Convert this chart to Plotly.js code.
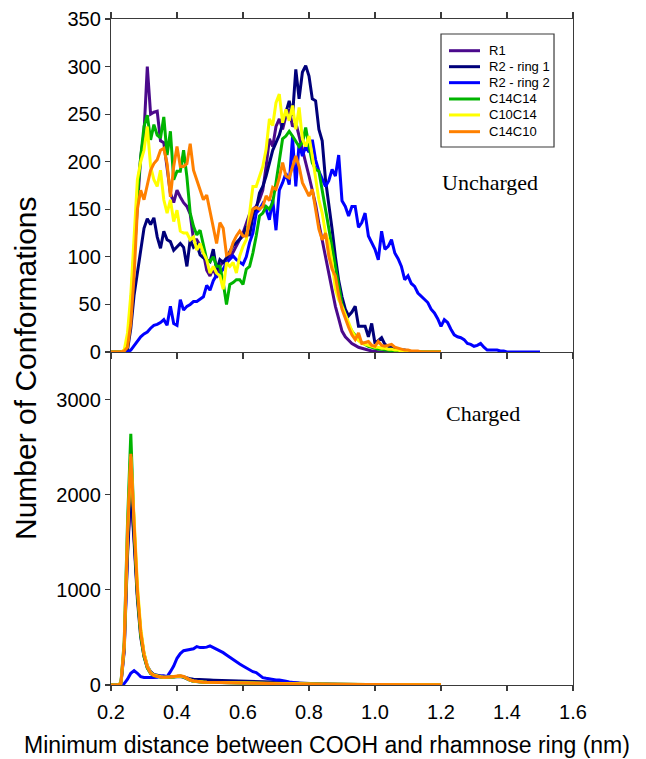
<!DOCTYPE html>
<html>
<head>
<meta charset="utf-8">
<script src="https://cdn.plot.ly/plotly-3.0.1.min.js"></script>
<style>html,body{margin:0;padding:0;background:#fff;}#chart{width:646px;height:759px;}</style>
</head>
<body>
<div id="chart"></div>
<script>
// Distance grid (nm): start and step of the histogram bins
const X_START = 0.20;
const X_STEP = 0.01;

const seriesNames = ["R1", "R2 - ring 1", "R2 - ring 2", "C14C14", "C10C14", "C14C10"];
const seriesColors = ["#4B0A8C", "#00007A", "#0000FF", "#00B400", "#FFFF00", "#FF8000"];

// ---- Uncharged (top panel), counts per bin ----
const unchR1 = [
  0,0,0,0,0, 8,45,100,150,205, 230,300,250,252,253, 222,220,195,167,157,
  170,163,157,153,145, 118,118,112,104,86, 80,88,78,90,95, 93,100,105,112,118,
  125,135,145,150,153, 160,170,195,224,216, 237,245,234,248,255, 237,241,227,213,202,
  185,170,155,135,118, 100,85,68,48,35, 22,16,12,9,7, 5,4,3,2,1,
  1,0,0,0,0, 0,0,0,0,0, 0,0,0,0,0, 0,0,0,0,0, 0
];
const unchR2ring1 = [
  0,0,0,0,0, 2,25,60,85,105, 130,140,134,141,121, 109,127,118,116,107,
  111,114,110,90,118, 110,113,102,99,97, 95,108,86,97,94, 99,105,112,115,118,
  122,132,122,143,150, 167,174,185,200,212, 220,228,240,252,264, 248,297,266,294,301,
  290,266,264,234,222, 181,157,129,100,75, 58,45,38,42,48, 27,27,27,16,30,
  9,12,15,8,6, 5,4,3,2,2, 1,0,0,0,0, 0,0,0,0,0, 0
];
const unchR2ring2 = [
  0,0,0,0,0, 0,2,7,12,16, 19,21,25,28,29, 31,34,28,48,30,
  28,55,44,48,50, 53,53,56,58,70, 65,75,81,83,87, 94,98,101,97,94,
  92,100,115,125,146, 150,156,150,139,160, 128,170,178,188,176, 226,174,219,206,216,
  210,223,202,190,181, 174,180,192,185,207, 159,153,143,153,153, 131,136,146,122,115,
  108,97,127,108,111, 118,104,98,90,76, 80,72,69,62,59, 55,52,45,41,35,
  27,34,31,24,18, 16,15,13,9,8, 6,7,9,5,2, 2,2,2,1,1,
  0,0,0,0,0, 0,0,0,0,0, 0
];
const unchC14C14 = [
  0,0,0,0,1, 10,50,110,165,205, 237,249,223,239,228, 225,247,207,232,181,
  190,190,212,184,146, 132,123,128,111,97, 95,100,90,90,73, 50,71,73,76,76,
  71,87,90,104,122, 143,146,153,150,157, 178,202,224,227,232, 227,222,216,220,236,
  216,199,192,190,170, 150,130,110,88,70, 50,38,28,22,17, 13,10,8,6,5,
  4,3,3,2,2, 1,0,0,0,0, 0,0,0,0,0, 0,0,0,0,0, 0
];
const unchC10C14 = [
  0,0,0,0,2, 20,60,115,181,200, 212,237,195,181,174, 191,160,146,160,137,
  149,127,125,125,118, 121,107,114,104,97, 83,90,83,80,66, 94,90,94,83,101,
  111,118,146,174,174, 185,195,213,245,238, 262,271,241,255,243, 259,234,257,224,216,
  227,206,181,160,146, 125,115,94,66,55, 48,40,31,22,16, 12,9,8,7,6,
  5,5,4,4,3, 3,2,2,1,1, 1,0,0,0,0, 0,0,0,0,0, 0
];
const unchC14C10 = [
  0,0,0,0,1, 5,30,80,150,170, 160,177,191,198,202, 212,214,198,163,195,
  216,195,195,198,219, 191,181,170,160,165, 149,132,114,136,130, 102,104,115,122,127,
  122,122,136,150,152, 150,153,164,159,173, 171,183,199,185,183, 195,206,195,178,171,
  164,171,150,129,118, 125,101,87,80,60, 45,35,26,18,13, 20,9,10,11,7,
  6,11,7,6,7, 8,5,4,3,2, 2,1,1,1,0, 0,0,0,0,0, 0
];

// ---- Charged (bottom panel), counts per bin ----
const chR1 = [
  0,0,0,10,350, 1350,2050,1500,900,500, 300,180,125,100,90, 85,80,80,82,85,
  88,90,80,62,48, 40,36,33,31,30, 29,28,27,27,26, 25,24,24,23,22,
  22,21,20,20,19, 18,18,17,16,16, 15,14,14,13,12, 12,11,11,10,10,
  9,9,8,8,7, 7,6,6,6,5, 5,5,4,4,4, 4,3,3,3,3,
  3,2,2,2,2, 2,2,2,1,1, 1,1,1,1,1, 1,1,1,0,0, 0
];
const chR2ring1 = [
  0,0,0,10,380, 1400,2100,1550,950,560, 330,200,140,110,100, 95,90,88,88,90,
  92,95,88,75,65, 60,57,55,53,52, 52,51,50,50,50, 49,49,48,48,47,
  47,46,45,44,43, 42,40,38,36,34, 32,30,28,26,24, 22,20,18,17,16,
  15,14,13,12,11, 10,9,9,8,8, 7,7,6,6,5, 5,5,4,4,4,
  3,3,3,3,2, 2,2,2,2,1, 1,1,1,1,1, 1,1,0,0,0, 0
];
const chR2ring2 = [
  0,0,0,0,15, 60,123,151,123,88, 80,77,77,78,80, 95,98,88,140,200,
  281,330,361,368,368, 380,404,393,395,398, 411,395,375,355,340, 316,290,270,246,220,
  200,180,158,140,130, 105,77,70,63,60, 53,53,50,40,32, 25,21,18,15,12,
  10,9,8,7,6, 6,5,5,5,4, 4,4,3,3,3, 3,3,2,2,2,
  2,2,2,1,1, 1,1,1,1,1, 1,1,0,0,0, 0,0,0,0,0, 0
];
const chC14C14 = [
  0,0,0,20,450, 1700,2640,1650,950,520, 300,180,120,100,90, 85,80,80,82,85,
  90,92,85,65,50, 40,35,32,30,28, 27,26,25,24,23, 22,22,21,21,20,
  20,19,19,18,18, 17,17,16,16,15, 15,14,14,13,12, 12,11,11,10,10,
  10,9,9,8,8, 8,7,7,7,6, 6,6,5,5,5, 5,4,4,4,4,
  4,3,3,3,3, 3,3,2,2,2, 2,2,2,2,1, 1,1,1,1,1, 1
];
const chC10C14 = [
  0,0,0,15,400, 1550,2400,1750,1050,600, 340,200,130,105,92, 86,82,82,85,88,
  92,95,88,68,52, 42,37,34,32,30, 29,28,27,26,25, 24,24,23,22,22,
  21,21,20,20,19, 19,18,18,17,17, 16,16,15,15,14, 14,13,13,12,12,
  11,11,10,10,10, 9,9,9,8,8, 8,7,7,7,7, 6,6,6,6,5,
  5,5,5,5,4, 4,4,4,4,4, 3,3,3,3,3, 3,3,3,2,2, 2
];
const chC14C10 = [
  0,0,0,15,420, 1600,2430,1700,1000,560, 320,190,125,100,90, 85,82,82,85,90,
  95,98,90,70,52, 42,36,33,30,28, 27,26,25,24,23, 22,22,21,21,20,
  20,19,19,18,18, 17,17,16,16,15, 15,14,14,13,13, 12,12,11,11,10,
  10,10,9,9,9, 8,8,8,7,7, 7,7,6,6,6, 6,5,5,5,5,
  5,5,4,4,4, 4,4,4,4,3, 3,3,3,3,3, 3,3,3,3,3, 3
];

const xTickVals = [0.2, 0.4, 0.6, 0.8, 1.0, 1.2, 1.4, 1.6];
const xTickText = ["0.2", "0.4", "0.6", "0.8", "1.0", "1.2", "1.4", "1.6"];
const yTopTicks = [0, 50, 100, 150, 200, 250, 300, 350];
const yBottomTicks = [0, 1000, 2000, 3000];

const unchData = [unchR1, unchR2ring1, unchR2ring2, unchC14C14, unchC10C14, unchC14C10];
const chData = [chR1, chR2ring1, chR2ring2, chC14C14, chC10C14, chC14C10];

function grid(n) {
  const out = [];
  for (let i = 0; i < n; i++) out.push(Math.round((X_START + i * X_STEP) * 1000) / 1000);
  return out;
}

const traces = [];
unchData.forEach((ys, k) => {
  traces.push({
    x: grid(ys.length), y: ys, type: "scatter", mode: "lines",
    name: seriesNames[k], line: {color: seriesColors[k], width: 3},
    xaxis: "x2", yaxis: "y2", showlegend: false, hoverinfo: "skip"
  });
});
chData.forEach((ys, k) => {
  traces.push({
    x: grid(ys.length), y: ys, type: "scatter", mode: "lines",
    name: seriesNames[k], line: {color: seriesColors[k], width: 3},
    xaxis: "x", yaxis: "y", showlegend: false, hoverinfo: "skip"
  });
});

const axisColor = "#3a3a3a";
const sans = "Liberation Sans, Arial, sans-serif";
const serif = "Liberation Serif, Times New Roman, serif";
const tickFont = {family: sans, size: 20, color: "#000"};

// Legend box drawn in paper coordinates (compact 16px rows as in the original)
const legendBox = {x0: 0.7143, x1: 0.9589, y0: 0.8078, y1: 0.9775};
const legendLineX = [0.7316, 0.7987];
const legendTextX = 0.8139;
const legendRowY = [0.9524, 0.9284, 0.9044, 0.8799, 0.8559, 0.8308];

const shapes = [{
  type: "rect", xref: "paper", yref: "paper",
  x0: legendBox.x0, x1: legendBox.x1, y0: legendBox.y0, y1: legendBox.y1,
  line: {color: axisColor, width: 1.2}, fillcolor: "#fff", layer: "above"
}];
const annotations = [];
seriesNames.forEach((nm, k) => {
  shapes.push({
    type: "line", xref: "paper", yref: "paper",
    x0: legendLineX[0], x1: legendLineX[1], y0: legendRowY[k], y1: legendRowY[k],
    line: {color: seriesColors[k], width: 3}, layer: "above"
  });
  annotations.push({
    text: nm, xref: "paper", yref: "paper", x: legendTextX, y: legendRowY[k],
    xanchor: "left", yanchor: "middle", showarrow: false,
    font: {family: sans, size: 13, color: "#000"}
  });
});

annotations.push(
  {text: "Uncharged", xref: "paper", yref: "paper", x: 0.820, y: 0.754,
   xanchor: "center", yanchor: "middle", showarrow: false,
   font: {family: serif, size: 22, color: "#000"}},
  {text: "Charged", xref: "paper", yref: "paper", x: 0.806, y: 0.408,
   xanchor: "center", yanchor: "middle", showarrow: false,
   font: {family: serif, size: 22, color: "#000"}},
  {text: "Number of Conformations", xref: "paper", yref: "paper", x: -0.184, y: 0.476,
   xanchor: "center", yanchor: "middle", textangle: -90, showarrow: false,
   font: {family: sans, size: 30, color: "#000"}},
  {text: "Minimum distance between COOH and rhamnose ring (nm)", xref: "paper", yref: "paper",
   x: 0.4675, y: -0.09, xanchor: "center", yanchor: "middle", showarrow: false,
   font: {family: sans, size: 23, color: "#000"}}
);

const layout = {
  width: 646, height: 759,
  margin: {l: 111, r: 73, t: 19, b: 74},
  paper_bgcolor: "#fff", plot_bgcolor: "#fff",
  showlegend: false,
  xaxis: {
    anchor: "y", domain: [0, 1], range: [0.2, 1.6],
    tickvals: xTickVals, ticktext: xTickText,
    ticks: "outside", ticklen: 5, tickwidth: 1.2, tickcolor: axisColor,
    ticklabelstandoff: 4,
    showline: true, linecolor: axisColor, linewidth: 1.2,
    showgrid: false, zeroline: false, tickfont: tickFont
  },
  xaxis3: {
    anchor: "y", overlaying: "x", range: [0.2, 1.6],
    tickvals: xTickVals, showticklabels: false,
    ticks: "inside", ticklen: 5, tickwidth: 1.2, tickcolor: axisColor,
    showline: false, showgrid: false, zeroline: false
  },
  xaxis2: {
    anchor: "y2", matches: "x", range: [0.2, 1.6],
    tickvals: xTickVals, showticklabels: false,
    ticks: "outside", ticklen: 6, tickwidth: 1.2, tickcolor: axisColor,
    showline: true, linecolor: axisColor, linewidth: 1.2, mirror: "ticks",
    showgrid: false, zeroline: false
  },
  yaxis: {
    anchor: "x", domain: [0, 0.5], range: [0, 3500],
    tickvals: yBottomTicks,
    ticks: "outside", ticklen: 5, tickwidth: 1.2, tickcolor: axisColor,
    showline: true, linecolor: axisColor, linewidth: 1.2, mirror: true,
    showgrid: false, zeroline: false, tickfont: tickFont
  },
  yaxis2: {
    anchor: "x2", domain: [0.5, 1], range: [0, 350],
    tickvals: yTopTicks,
    ticks: "outside", ticklen: 5, tickwidth: 1.2, tickcolor: axisColor,
    showline: true, linecolor: axisColor, linewidth: 1.2, mirror: true,
    showgrid: false, zeroline: false, tickfont: tickFont
  },
  shapes: shapes,
  annotations: annotations
};

Plotly.newPlot("chart", traces, layout, {staticPlot: true, displayModeBar: false});
</script>
</body>
</html>
